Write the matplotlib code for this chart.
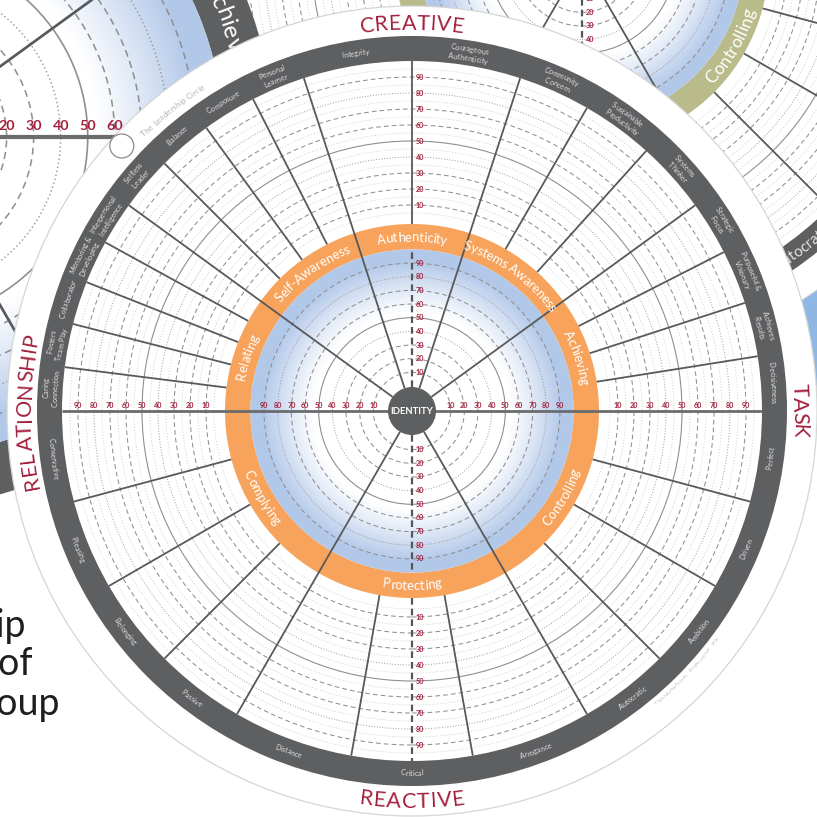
import numpy as np
import matplotlib
matplotlib.use("Agg")
import matplotlib.pyplot as plt
from matplotlib.patches import Circle, Wedge
from matplotlib.font_manager import FontProperties

FONT = "Lato"

# ---------------- data ----------------
top_groups = ["Achieving", "Systems Awareness", "Authenticity", "Self-Awareness", "Relating"]
top_group_sizes = [4, 3, 2, 4, 5]
top_dims = ["Decisiveness", "Achieves\nResults", "Purposeful &\nVisionary", "Strategic\nFocus",
            "Systems\nThinker", "Sustainable\nProductivity", "Community\nConcern",
            "Courageous\nAuthenticity", "Integrity",
            "Personal\nLearner", "Composure", "Balance", "Selfless\nLeader",
            "Interpersonal\nIntelligence", "Mentoring &\nDeveloping", "Collaborator",
            "Fosters\nTeam Play", "Caring\nConnection"]
bottom_groups = ["Controlling", "Protecting", "Complying"]
bottom_group_sizes = [4, 3, 4]
bottom_dims = ["Perfect", "Driven", "Ambition", "Autocratic", "Arrogance", "Critical", "Distance",
               "Passive", "Belonging", "Pleasing", "Conservative"]
quadrant_labels = ["CREATIVE", "TASK", "REACTIVE", "RELATIONSHIP"]
quadrant_angles = [90, 0, 270, 180]
scale_ticks = [10, 20, 30, 40, 50, 60, 70, 80, 90]
outer_ring_levels = list(range(5, 100, 5))
inner_ring_levels = list(range(10, 100, 10))
side_text = ["Leadership", "Profile of", "Group"]
brand_text = "The Leadership Circle"
copyright_text = "\u00a9 The Leadership Circle Inc.     All rights reserved.     2013"

# ---------------- style ----------------
ORANGE = "#f7a35c"
BAND = "#5e5f61"
OLIVE = "#b9bb8b"
BLUE = np.array([0.70, 0.785, 0.915])
RED = "#a3213d"
SPOKE = "#58595b"
EDGE = "#d5d5d5"
BAND_TXT = "#e2e2e2"

R_ID, R_IN0, K_IN = 24.0, 25.0, 1.366
R_BLUE = R_IN0 + 100 * K_IN
R_RING = 187.0
R_OUT0, K_OUT = 190.0, 1.6
R_BAND_IN = R_OUT0 + 100 * K_OUT
R_BAND_OUT = 375.0
R_DISC = 405.0
W = H = 817
MX, MY = 412, 406

fig = plt.figure(figsize=(W / 100, H / 100), dpi=100)
ax = fig.add_axes([0, 0, 1, 1])
ax.set_autoscale_on(False)
ax.set_xlim(0, W)
ax.set_ylim(0, H)
ax.axis("off")
renderer = fig.canvas.get_renderer()


def pol(cx, cy, r, th):
    t = np.deg2rad(th)
    return cx + r * np.cos(t), cy + r * np.sin(t)


def shown(x, y, bg):
    """Skip text anchors that can never be seen."""
    if x < -6 or x > W + 6 or y < -6 or y > H + 6:
        return False
    if bg and np.hypot(x - MX, y - MY) < R_DISC - 6:
        return False
    return True


def text_w(s, fp):
    w1, _, _ = renderer.get_text_width_height_descent("|" + s + "|", fp, ismath=False)
    w0, _, _ = renderer.get_text_width_height_descent("||", fp, ismath=False)
    return w1 - w0


def curved(s, cx, cy, r, th, size, color, outward=True, weight="normal", z=50,
           spacing=0.0, bg=False):
    fp = FontProperties(family=FONT, size=size, weight=weight)
    n = len(s)
    widths = [text_w(s[:i], fp) for i in range(n + 1)]
    total = widths[-1] + spacing * (n - 1)
    cap = 0.36 * size * 100 / 72
    for i, ch in enumerate(s):
        if ch == " ":
            continue
        mid = (widths[i] + widths[i + 1]) / 2 + spacing * i - total / 2
        d = np.rad2deg(mid / r)
        if outward:
            a = th - d
            rb, rot = r - cap, a - 90
        else:
            a = th + d
            rb, rot = r + cap, a + 90
        x, y = pol(cx, cy, rb, a)
        if not shown(x, y, bg):
            continue
        ax.text(x, y, ch, fontproperties=fp, color=color, rotation=rot,
                rotation_mode="anchor", ha="center", va="baseline", zorder=z)


def ring(cx, cy, r, v, z, s=1.0):
    if v == 50:
        ls, c, lw = "-", "#8f8f8f", 0.8
    elif v % 10 == 0 and v not in (40, 80):
        ls, c, lw = (0, (4.5, 3)), "#8f8f8f", 0.75
    elif v % 10 == 0:
        ls, c, lw = (0, (1, 1.8)), "#9a9a9a", 0.7
    else:
        ls, c, lw = (0, (1, 2.4)), "#c2c2c2", 0.6
    ax.add_patch(Circle((cx, cy), r, fill=False, edgecolor=c, lw=lw * min(s, 1.5),
                        linestyle=ls, zorder=z))


def blue_disc(cx, cy, R, z):
    n = 360
    xs = np.linspace(-R, R, n)
    X, Y = np.meshgrid(xs, xs)
    rr = np.hypot(X, Y) / R * R_BLUE
    t = np.clip((rr - 98) / 52, 0, 1)[..., None] ** 1.1
    img = (1 - t) * np.ones(3) + t * BLUE
    im = ax.imshow(img, extent=(cx - R, cx + R, cy - R, cy + R), origin="lower",
                   zorder=z, interpolation="bilinear")
    im.set_clip_path(Circle((cx, cy), R, transform=ax.transData))


def layout():
    dims, groups, major, minor = [], [], [], []
    span = 180 / len(top_groups)
    k = 0
    for gi, (g, n) in enumerate(zip(top_groups, top_group_sizes)):
        a0 = span * gi
        groups.append((g, a0 + span / 2, True))
        for j in range(n):
            dims.append((top_dims[k], a0 + (j + 0.5) * span / n, True))
            k += 1
            (major if j == 0 else minor).append(a0 + j * span / n)
    span = 180 / len(bottom_groups)
    k = 0
    for gi, (g, n) in enumerate(zip(bottom_groups, bottom_group_sizes)):
        a0 = -span * gi
        groups.append((g, a0 - span / 2, False))
        for j in range(n):
            dims.append((bottom_dims[k], a0 - (j + 0.5) * span / n, False))
            k += 1
            (major if j == 0 else minor).append(a0 - j * span / n)
    major = [a for a in major if a % 180 != 0]
    minor = [a for a in minor if a % 180 != 0]
    return dims, groups, major, minor


DIMS, GROUPS, MAJOR, MINOR = layout()


def label(x, y, txt, bg, **kw):
    if shown(x, y, bg):
        ax.text(x, y, txt, **kw)


def draw_circle(cx, cy, s, ring_color, z, disc=True, outer=True, labels=True,
                ring_fs=9.4, band_fs=5.2, bg=False):
    if disc:
        ax.add_patch(Circle((cx, cy), R_DISC * s, facecolor="white", edgecolor=EDGE,
                            lw=0.9, zorder=z))
    if outer:
        ax.add_patch(Wedge((cx, cy), R_BAND_OUT * s, 0, 360, width=(R_BAND_OUT - R_BAND_IN) * s,
                           facecolor=BAND, edgecolor="none", zorder=z + 1))
        for v in outer_ring_levels:
            ring(cx, cy, s * (R_OUT0 + K_OUT * v), v, z + 2, s)
    ax.add_patch(Wedge((cx, cy), R_RING * s, 0, 360, width=(R_RING - R_BLUE) * s,
                       facecolor=ring_color, edgecolor="none", zorder=z + 3))
    blue_disc(cx, cy, R_BLUE * s, z + 3)
    for v in inner_ring_levels:
        ring(cx, cy, s * (R_IN0 + K_IN * v), v, z + 4, s)
    r_end = (R_BAND_IN if outer else R_RING) * s
    lw = 1.3 * min(s, 1.5)
    for a in MAJOR:
        x0, y0 = pol(cx, cy, R_ID * s, a)
        x1, y1 = pol(cx, cy, r_end, a)
        ax.plot([x0, x1], [y0, y1], color=SPOKE, lw=lw, zorder=z + 6, solid_capstyle="butt")
    if outer:
        for a in MINOR:
            x0, y0 = pol(cx, cy, R_RING * s, a)
            x1, y1 = pol(cx, cy, r_end, a)
            ax.plot([x0, x1], [y0, y1], color=SPOKE, lw=lw, zorder=z + 6, solid_capstyle="butt")
    ax.plot([cx - r_end, cx + r_end], [cy, cy], color="#6a6b6d", lw=2.0 * min(s, 1.5),
            zorder=z + 6, solid_capstyle="butt")
    dash = dict(color="#555658", lw=1.6 * min(s, 1.5), linestyle=(0, (3, 1.8)), zorder=z + 6)
    for a in (90, 270):
        x0, y0 = pol(cx, cy, R_ID * s, a)
        x1, y1 = pol(cx, cy, R_BLUE * s, a)
        ax.plot([x0, x1], [y0, y1], **dash)
    if outer:
        x0, y0 = pol(cx, cy, R_RING * s, 270)
        x1, y1 = pol(cx, cy, R_BAND_IN * s, 270)
        ax.plot([x0, x1], [y0, y1], **dash)
    ax.add_patch(Circle((cx, cy), R_ID * s, facecolor=BAND, edgecolor="none", zorder=z + 7))
    label(cx, cy, "IDENTITY", bg, color="white", fontsize=6.8 * s, fontweight="bold",
          family=FONT, ha="center", va="center", zorder=z + 8)
    fs = 5.2 * s
    scales = [(R_IN0, K_IN)] + ([(R_OUT0, K_OUT)] if outer else [])
    kw = dict(color=RED, fontsize=fs, family=FONT, fontweight="bold", zorder=z + 8)
    for r0, k in scales:
        for v in scale_ticks:
            r = s * (r0 + k * v)
            label(cx + r, cy + 2.5 * s, str(v), bg, ha="center", va="bottom", **kw)
            label(cx - r, cy + 2.5 * s, str(v), bg, ha="center", va="bottom", **kw)
            label(cx + 3.5 * s, cy + r, str(v), bg, ha="left", va="center", **kw)
            label(cx + 3.5 * s, cy - r, str(v), bg, ha="left", va="center", **kw)
    if not labels:
        return
    for g, a, top in GROUPS:
        curved(g, cx, cy, s * (R_BLUE + R_RING) / 2, a, ring_fs * s, "white",
               outward=top, z=z + 9, bg=bg)
    if outer:
        for lab, a, top in DIMS:
            lines = lab.split("\n")
            rs = [362.0] if len(lines) == 1 else [366.5, 357.0]
            for ln, rr in zip(lines, rs):
                curved(ln, cx, cy, s * rr, a, band_fs * s, BAND_TXT, outward=top,
                       z=z + 9, bg=bg)


# background: other circles partially visible behind the main one
ax.add_patch(Circle((1000, 567), 230, facecolor="#8fb7e4", edgecolor="none", zorder=1))
draw_circle(582, 857, 1.0, OLIVE, 10, ring_fs=12.5, band_fs=11.0, bg=True)
draw_circle(-97, 680, 1.98, BAND, 30, disc=False, outer=False, ring_fs=8.8, bg=True)

# main circle
draw_circle(MX, MY, 1.0, ORANGE, 60)
for lab, a in zip(quadrant_labels, quadrant_angles):
    curved(lab, MX, MY, 389, a, 15.5, RED, outward=(a != 270), z=90, spacing=0.6)
curved(brand_text, MX, MY, 386, 128.5, 6.0, "#b3b3b3", outward=True, z=90)
bx, by = pol(MX, MY, 393, 137.6)
ax.add_patch(Circle((bx, by), 12, facecolor="white", edgecolor="#8a8a8a", lw=0.9, zorder=89))
curved(copyright_text, MX, MY, 381, -43.5, 2.6, "#b0b0b0", outward=False, z=90)

# side text at lower left (cut by the picture edge)
for txt, xr, yb in zip(side_text, [26, 32, 60], [180, 142, 102]):
    ax.text(xr, yb, txt, fontsize=27, family=FONT, color="#1e1e1e", ha="right",
            va="baseline", zorder=95)

ax.set_xlim(0, W)
ax.set_ylim(0, H)
fig.savefig("out.png", dpi=100, facecolor="white")
